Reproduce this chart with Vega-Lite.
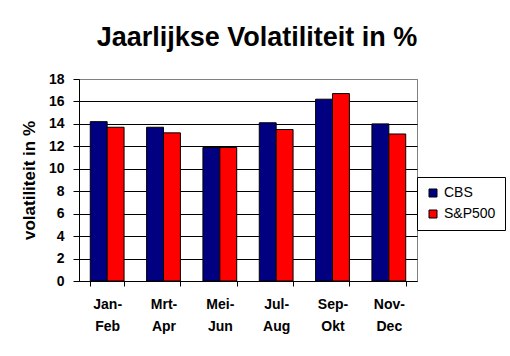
{
  "$schema": "https://vega.github.io/schema/vega-lite/v6.json",
  "width": 338,
  "height": 202,
  "autosize": {"type": "none"},
  "padding": {"left": 79, "top": 79, "right": 93, "bottom": 75},
  "background": "white",
  "title": {
    "text": "Jaarlijkse Volatiliteit in %",
    "font": "Liberation Sans",
    "fontSize": 27,
    "fontWeight": "bold",
    "color": "black",
    "anchor": "middle",
    "frame": "group",
    "dx": 9,
    "dy": 27,
    "baseline": "alphabetic",
    "offset": 26
  },
  "data": {
    "values": [
      {"period": "Jan-Feb", "series": "CBS", "value": 14.2},
      {"period": "Jan-Feb", "series": "S&P500", "value": 13.7},
      {"period": "Mrt-Apr", "series": "CBS", "value": 13.7},
      {"period": "Mrt-Apr", "series": "S&P500", "value": 13.2},
      {"period": "Mei-Jun", "series": "CBS", "value": 11.9},
      {"period": "Mei-Jun", "series": "S&P500", "value": 11.9},
      {"period": "Jul-Aug", "series": "CBS", "value": 14.1},
      {"period": "Jul-Aug", "series": "S&P500", "value": 13.5},
      {"period": "Sep-Okt", "series": "CBS", "value": 16.2},
      {"period": "Sep-Okt", "series": "S&P500", "value": 16.7},
      {"period": "Nov-Dec", "series": "CBS", "value": 14.0},
      {"period": "Nov-Dec", "series": "S&P500", "value": 13.1}
    ]
  },
  "mark": {"type": "bar", "stroke": "black", "strokeWidth": 1},
  "encoding": {
    "x": {
      "field": "period",
      "type": "nominal",
      "sort": null,
      "scale": {"paddingInner": 0.4, "paddingOuter": 0.2},
      "axis": {
        "title": null,
        "labelAngle": 0,
        "labelFont": "Liberation Sans",
        "labelFontSize": 14,
        "labelFontWeight": "bold",
        "labelColor": "black",
        "labelExpr": "datum.label ? [split(datum.label, '-')[0] + '-', split(datum.label, '-')[1]] : ''",
        "labelLineHeight": 22,
        "labelBaseline": "top",
        "labelPadding": 11,
        "tickBand": "extent",
        "tickSize": 5,
        "tickColor": "black",
        "domainColor": "black",
        "grid": false
      }
    },
    "xOffset": {"field": "series", "type": "nominal"},
    "y": {
      "field": "value",
      "type": "quantitative",
      "scale": {"domain": [0, 18], "nice": false},
      "axis": {
        "title": "volatiliteit in %",
        "titleFont": "Liberation Sans",
        "titleFontSize": 17,
        "titleFontWeight": "bold",
        "titleColor": "black",
        "titlePadding": 10,
        "values": [0, 2, 4, 6, 8, 10, 12, 14, 16, 18],
        "labelFont": "Liberation Sans",
        "labelFontSize": 14,
        "labelFontWeight": "bold",
        "labelColor": "black",
        "labelPadding": 9,
        "tickSize": 6,
        "tickColor": "black",
        "domainColor": "black",
        "grid": true,
        "gridColor": {"condition": {"test": "datum.value == 18", "value": "#808080"}, "value": "black"},
        "gridOpacity": 1
      }
    },
    "color": {
      "field": "series",
      "type": "nominal",
      "scale": {"domain": ["CBS", "S&P500"], "range": ["#000080", "#FF0000"]},
      "legend": {
        "title": null,
        "orient": "none",
        "legendX": 338,
        "legendY": 98,
        "direction": "vertical",
        "strokeColor": "black",
        "fillColor": "white",
        "padding": 9,
        "symbolType": "square",
        "symbolSize": 64,
        "symbolStrokeColor": "black",
        "symbolStrokeWidth": 1,
        "symbolOpacity": 1,
        "labelFont": "Liberation Sans",
        "labelFontSize": 14,
        "labelColor": "black",
        "labelOffset": 4,
        "rowPadding": 7
      }
    }
  },
  "config": {
    "view": {"stroke": "#808080", "strokeWidth": 1}
  }
}
